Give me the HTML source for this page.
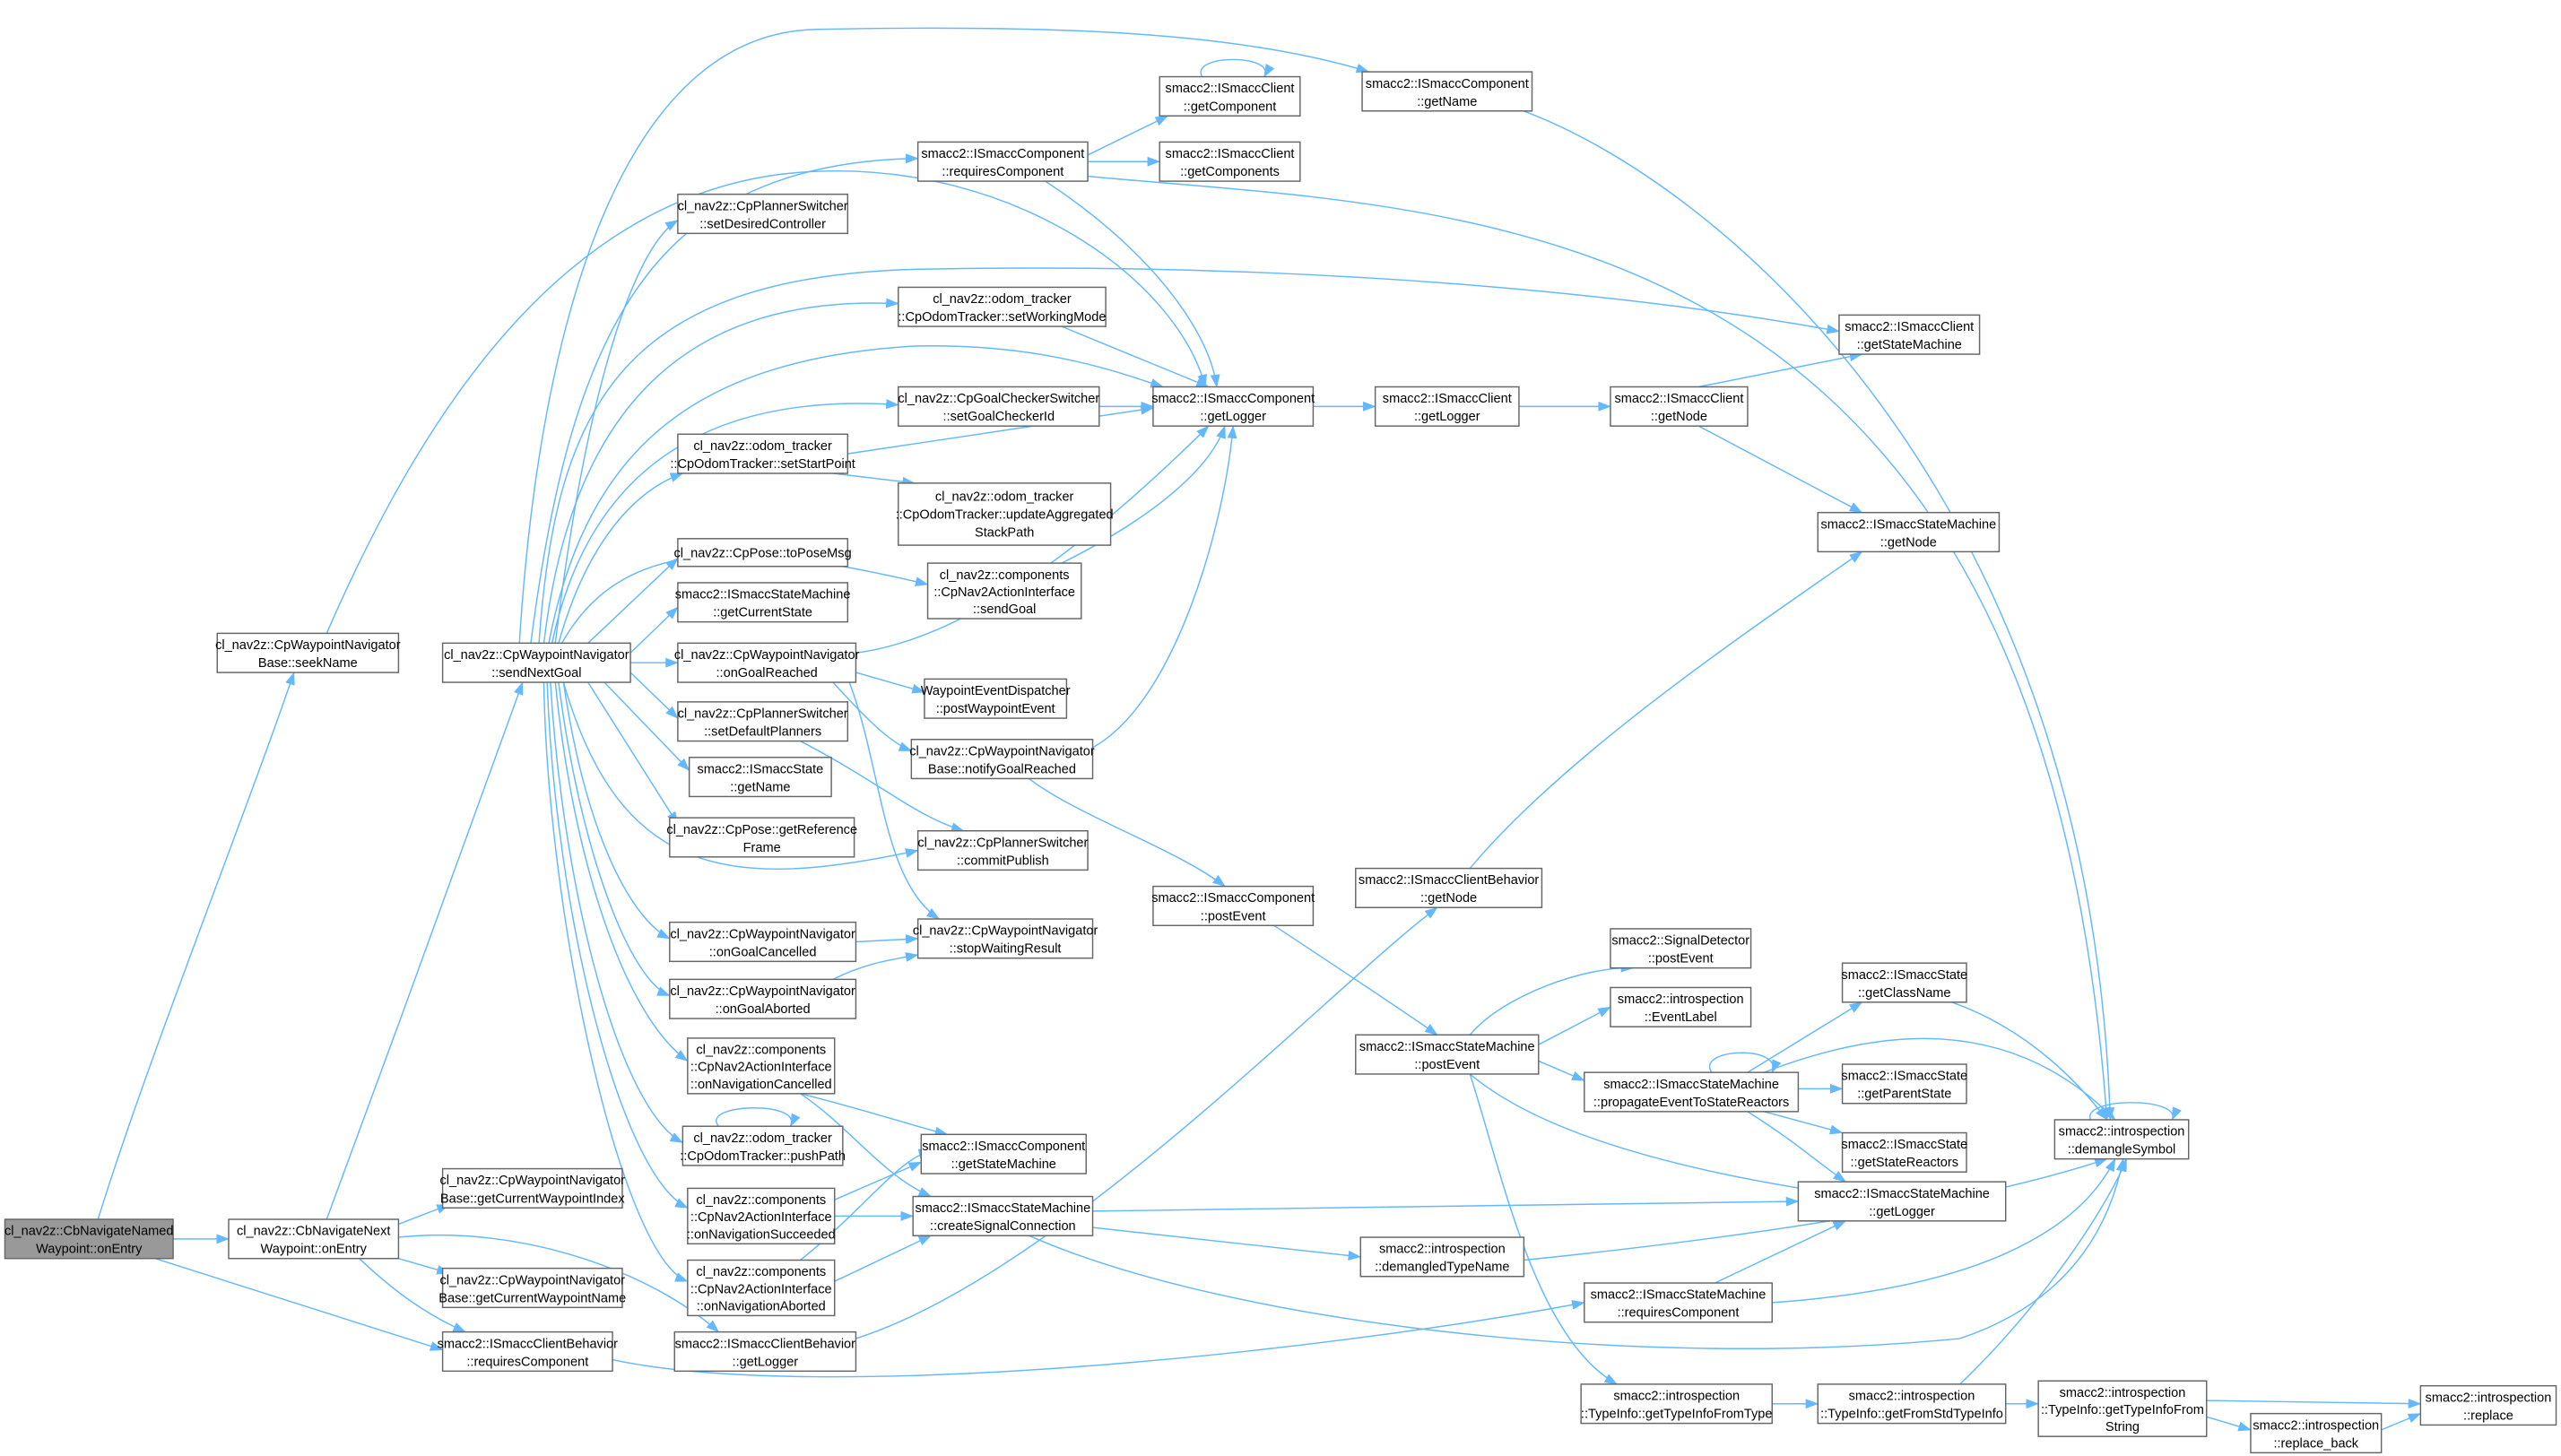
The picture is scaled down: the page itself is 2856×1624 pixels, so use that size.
<!DOCTYPE html>
<html><head><meta charset="utf-8"><style>
html,body{margin:0;padding:0;background:#fff;}
svg{display:block;}
text{font-family:"Liberation Sans",Arial,sans-serif;font-size:8px;fill:#000;text-anchor:middle;}
.b{fill:#fff;stroke:#666;stroke-width:0.8;}
.e{fill:none;stroke:#63b8ff;stroke-width:0.8;marker-end:url(#ar);}
</style></head><body>
<svg width="2856" height="1624" viewBox="0 0 1568 892" preserveAspectRatio="none" xmlns="http://www.w3.org/2000/svg">
<defs><marker id="ar" markerWidth="8" markerHeight="6" refX="7.5" refY="3" orient="auto" markerUnits="userSpaceOnUse"><path d="M0,0 L8,3 L0,6 z" fill="#63b8ff"/></marker></defs>
<rect width="1568" height="892" fill="#fff"/>
<g>
<path class="e" d="M60,747 C90,650 150,500 180,412"/>
<path class="e" d="M106,759 L140,759"/>
<path class="e" d="M95,771 L271,827"/>
<path class="e" d="M200,747 C240,640 290,500 320,418"/>
<path class="e" d="M244,750 L275,738"/>
<path class="e" d="M244,771 L275,780"/>
<path class="e" d="M220,771 C240,790 260,805 285,816"/>
<path class="e" d="M244,758 C320,750 400,780 440,816"/>
<path class="e" d="M200,388 C260,250 350,110 500,105 C620,100 720,170 738,237"/>
<path class="e" d="M340,394 C360,230 390,150 415,135"/>
<path class="e" d="M318,394 C330,200 380,20 500,18 C650,15 760,20 838,44"/>
<path class="e" d="M325,394 C350,200 400,100 562,97"/>
<path class="e" d="M330,394 C340,250 380,170 560,165 C800,160 1000,180 1126,203"/>
<path class="e" d="M333,394 C350,250 420,180 550,186"/>
<path class="e" d="M336,394 C360,270 430,220 560,212 C640,210 690,230 712,237"/>
<path class="e" d="M338,394 C360,290 430,240 550,248"/>
<path class="e" d="M342,394 C360,330 390,300 418,290"/>
<path class="e" d="M344,394 C380,330 450,330 568,358"/>
<path class="e" d="M360,394 L415,342"/>
<path class="e" d="M386,400 L415,372"/>
<path class="e" d="M386,406 L415,406"/>
<path class="e" d="M386,412 L415,440"/>
<path class="e" d="M370,418 L422,472"/>
<path class="e" d="M360,418 L415,505"/>
<path class="e" d="M345,418 C380,540 450,545 562,521"/>
<path class="e" d="M345,418 C360,520 390,565 410,575"/>
<path class="e" d="M342,418 C355,520 385,600 410,610"/>
<path class="e" d="M340,418 C350,520 380,620 421,650"/>
<path class="e" d="M337,418 C345,550 380,680 418,700"/>
<path class="e" d="M335,418 C340,560 380,720 421,740"/>
<path class="e" d="M333,418 C335,560 380,770 421,785"/>
<path class="e" d="M524,400 C600,390 680,320 740,261"/>
<path class="e" d="M524,412 L566,424"/>
<path class="e" d="M510,418 C530,440 545,455 558,460"/>
<path class="e" d="M520,418 C540,470 540,540 575,563"/>
<path class="e" d="M490,454 C540,480 560,500 590,509"/>
<path class="e" d="M519,278 L706,250"/>
<path class="e" d="M510,290 L560,296"/>
<path class="e" d="M650,200 L740,237"/>
<path class="e" d="M673,249 L706,249"/>
<path class="e" d="M650,345 C700,320 740,290 750,261"/>
<path class="e" d="M669,458 C720,430 750,320 755,261"/>
<path class="e" d="M630,477 C660,500 720,520 750,543"/>
<path class="e" d="M524,577 L562,575"/>
<path class="e" d="M510,600 C530,590 545,588 562,585"/>
<path class="e" d="M490,670 C530,680 560,690 580,695"/>
<path class="e" d="M490,670 C520,690 540,720 570,733"/>
<path class="e" d="M440,690 C428,676 492,674 484,690"/>
<path class="e" d="M511,735 L564,712"/>
<path class="e" d="M511,745 L559,745"/>
<path class="e" d="M490,772 C530,740 550,710 570,705"/>
<path class="e" d="M511,785 L570,757"/>
<path class="e" d="M524,820 C650,780 820,600 880,556"/>
<path class="e" d="M375,833 C500,860 800,830 970,798"/>
<path class="e" d="M666,95 L715,71"/>
<path class="e" d="M666,99 L710,99"/>
<path class="e" d="M640,111 C700,150 740,200 745,237"/>
<path class="e" d="M666,108 C900,130 1250,120 1290,686"/>
<path class="e" d="M736,47 C728,33 782,33 774,47"/>
<path class="e" d="M930,67 C1050,110 1280,300 1292,686"/>
<path class="e" d="M804,249 L842,249"/>
<path class="e" d="M930,249 L986,249"/>
<path class="e" d="M1040,237 L1140,217"/>
<path class="e" d="M1040,261 L1140,314"/>
<path class="e" d="M900,532 C960,460 1080,380 1140,338"/>
<path class="e" d="M780,567 C830,600 860,620 880,634"/>
<path class="e" d="M900,634 C920,610 970,592 1000,593"/>
<path class="e" d="M942,640 L986,617"/>
<path class="e" d="M942,650 L970,662"/>
<path class="e" d="M900,658 C950,700 1050,720 1115,730"/>
<path class="e" d="M900,658 C920,720 940,820 990,848"/>
<path class="e" d="M1048,657 C1038,642 1092,640 1085,657"/>
<path class="e" d="M1070,657 L1140,614"/>
<path class="e" d="M1101,667 L1128,667"/>
<path class="e" d="M1080,681 L1128,694"/>
<path class="e" d="M1070,681 C1100,700 1110,710 1130,724"/>
<path class="e" d="M1080,657 C1150,630 1230,620 1295,686"/>
<path class="e" d="M1195,614 C1240,630 1270,660 1290,686"/>
<path class="e" d="M669,742 L1101,736"/>
<path class="e" d="M669,752 L833,770"/>
<path class="e" d="M630,757 C750,810 1000,840 1200,820 C1260,800 1290,760 1300,710"/>
<path class="e" d="M933,772 C1050,760 1200,740 1290,710"/>
<path class="e" d="M1050,786 L1130,748"/>
<path class="e" d="M1085,798 C1200,790 1270,760 1295,710"/>
<path class="e" d="M1085,860 L1113,860"/>
<path class="e" d="M1228,860 L1248,860"/>
<path class="e" d="M1200,848 C1250,800 1290,740 1302,710"/>
<path class="e" d="M1351,858 L1482,860"/>
<path class="e" d="M1351,868 L1378,876"/>
<path class="e" d="M1458,876 L1482,866"/>
<path class="e" d="M1280,686 C1274,672 1336,672 1330,686"/>
</g>
<g>
<rect x="3" y="747" width="103" height="24" fill="#999" stroke="#666" stroke-width="0.8"/><text x="54.5" y="756.7">cl_nav2z::CbNavigateNamed</text><text x="54.5" y="767.7">Waypoint::onEntry</text>
<rect class="b" x="133" y="388" width="111" height="24"/><text x="188.5" y="397.7">cl_nav2z::CpWaypointNavigator</text><text x="188.5" y="408.7">Base::seekName</text>
<rect class="b" x="140" y="747" width="104" height="24"/><text x="192" y="756.7">cl_nav2z::CbNavigateNext</text><text x="192" y="767.7">Waypoint::onEntry</text>
<rect class="b" x="271" y="394" width="115" height="24"/><text x="328.5" y="403.7">cl_nav2z::CpWaypointNavigator</text><text x="328.5" y="414.7">::sendNextGoal</text>
<rect class="b" x="271" y="716" width="110" height="24"/><text x="326" y="725.7">cl_nav2z::CpWaypointNavigator</text><text x="326" y="736.7">Base::getCurrentWaypointIndex</text>
<rect class="b" x="271" y="777" width="110" height="24"/><text x="326" y="786.7">cl_nav2z::CpWaypointNavigator</text><text x="326" y="797.7">Base::getCurrentWaypointName</text>
<rect class="b" x="271" y="816" width="104" height="24"/><text x="323" y="825.7">smacc2::ISmaccClientBehavior</text><text x="323" y="836.7">::requiresComponent</text>
<rect class="b" x="415" y="119" width="104" height="24"/><text x="467" y="128.7">cl_nav2z::CpPlannerSwitcher</text><text x="467" y="139.7">::setDesiredController</text>
<rect class="b" x="415" y="266" width="104" height="24"/><text x="467" y="275.7">cl_nav2z::odom_tracker</text><text x="467" y="286.7">::CpOdomTracker::setStartPoint</text>
<rect class="b" x="415" y="330" width="104" height="17"/><text x="467" y="341.5">cl_nav2z::CpPose::toPoseMsg</text>
<rect class="b" x="415" y="357" width="104" height="24"/><text x="467" y="366.7">smacc2::ISmaccStateMachine</text><text x="467" y="377.7">::getCurrentState</text>
<rect class="b" x="415" y="394" width="109" height="24"/><text x="469.5" y="403.7">cl_nav2z::CpWaypointNavigator</text><text x="469.5" y="414.7">::onGoalReached</text>
<rect class="b" x="415" y="430" width="104" height="24"/><text x="467" y="439.7">cl_nav2z::CpPlannerSwitcher</text><text x="467" y="450.7">::setDefaultPlanners</text>
<rect class="b" x="422" y="464" width="87" height="24"/><text x="465.5" y="473.7">smacc2::ISmaccState</text><text x="465.5" y="484.7">::getName</text>
<rect class="b" x="410" y="501" width="113" height="24"/><text x="466.5" y="510.7">cl_nav2z::CpPose::getReference</text><text x="466.5" y="521.7">Frame</text>
<rect class="b" x="410" y="565" width="114" height="24"/><text x="467" y="574.7">cl_nav2z::CpWaypointNavigator</text><text x="467" y="585.7">::onGoalCancelled</text>
<rect class="b" x="410" y="600" width="114" height="24"/><text x="467" y="609.7">cl_nav2z::CpWaypointNavigator</text><text x="467" y="620.7">::onGoalAborted</text>
<rect class="b" x="421" y="636" width="90" height="34"/><text x="466" y="645.7">cl_nav2z::components</text><text x="466" y="656.2">::CpNav2ActionInterface</text><text x="466" y="666.7">::onNavigationCancelled</text>
<rect class="b" x="418" y="690" width="98" height="24"/><text x="467" y="699.7">cl_nav2z::odom_tracker</text><text x="467" y="710.7">::CpOdomTracker::pushPath</text>
<rect class="b" x="421" y="728" width="90" height="34"/><text x="466" y="737.7">cl_nav2z::components</text><text x="466" y="748.2">::CpNav2ActionInterface</text><text x="466" y="758.7">::onNavigationSucceeded</text>
<rect class="b" x="421" y="772" width="90" height="34"/><text x="466" y="781.7">cl_nav2z::components</text><text x="466" y="792.2">::CpNav2ActionInterface</text><text x="466" y="802.7">::onNavigationAborted</text>
<rect class="b" x="413" y="816" width="111" height="24"/><text x="468.5" y="825.7">smacc2::ISmaccClientBehavior</text><text x="468.5" y="836.7">::getLogger</text>
<rect class="b" x="562" y="87" width="104" height="24"/><text x="614" y="96.7">smacc2::ISmaccComponent</text><text x="614" y="107.7">::requiresComponent</text>
<rect class="b" x="550" y="176" width="127" height="24"/><text x="613.5" y="185.7">cl_nav2z::odom_tracker</text><text x="613.5" y="196.7">::CpOdomTracker::setWorkingMode</text>
<rect class="b" x="550" y="237" width="123" height="24"/><text x="611.5" y="246.7">cl_nav2z::CpGoalCheckerSwitcher</text><text x="611.5" y="257.7">::setGoalCheckerId</text>
<rect class="b" x="550" y="296" width="130" height="38"/><text x="615" y="306.7">cl_nav2z::odom_tracker</text><text x="615" y="317.7">::CpOdomTracker::updateAggregated</text><text x="615" y="328.7">StackPath</text>
<rect class="b" x="568" y="345" width="94" height="34"/><text x="615" y="354.7">cl_nav2z::components</text><text x="615" y="365.2">::CpNav2ActionInterface</text><text x="615" y="375.7">::sendGoal</text>
<rect class="b" x="566" y="416" width="87" height="24"/><text x="609.5" y="425.7">WaypointEventDispatcher</text><text x="609.5" y="436.7">::postWaypointEvent</text>
<rect class="b" x="558" y="453" width="111" height="24"/><text x="613.5" y="462.7">cl_nav2z::CpWaypointNavigator</text><text x="613.5" y="473.7">Base::notifyGoalReached</text>
<rect class="b" x="562" y="509" width="104" height="24"/><text x="614" y="518.7">cl_nav2z::CpPlannerSwitcher</text><text x="614" y="529.7">::commitPublish</text>
<rect class="b" x="562" y="563" width="107" height="24"/><text x="615.5" y="572.7">cl_nav2z::CpWaypointNavigator</text><text x="615.5" y="583.7">::stopWaitingResult</text>
<rect class="b" x="564" y="695" width="101" height="24"/><text x="614.5" y="704.7">smacc2::ISmaccComponent</text><text x="614.5" y="715.7">::getStateMachine</text>
<rect class="b" x="559" y="733" width="110" height="24"/><text x="614" y="742.7">smacc2::ISmaccStateMachine</text><text x="614" y="753.7">::createSignalConnection</text>
<rect class="b" x="706" y="237" width="98" height="24"/><text x="755" y="246.7">smacc2::ISmaccComponent</text><text x="755" y="257.7">::getLogger</text>
<rect class="b" x="706" y="543" width="98" height="24"/><text x="755" y="552.7">smacc2::ISmaccComponent</text><text x="755" y="563.7">::postEvent</text>
<rect class="b" x="710" y="47" width="86" height="24"/><text x="753" y="56.7">smacc2::ISmaccClient</text><text x="753" y="67.7">::getComponent</text>
<rect class="b" x="710" y="87" width="86" height="24"/><text x="753" y="96.7">smacc2::ISmaccClient</text><text x="753" y="107.7">::getComponents</text>
<rect class="b" x="834" y="44" width="104" height="24"/><text x="886" y="53.7">smacc2::ISmaccComponent</text><text x="886" y="64.7">::getName</text>
<rect class="b" x="842" y="237" width="88" height="24"/><text x="886" y="246.7">smacc2::ISmaccClient</text><text x="886" y="257.7">::getLogger</text>
<rect class="b" x="830" y="532" width="114" height="24"/><text x="887" y="541.7">smacc2::ISmaccClientBehavior</text><text x="887" y="552.7">::getNode</text>
<rect class="b" x="830" y="634" width="112" height="24"/><text x="886" y="643.7">smacc2::ISmaccStateMachine</text><text x="886" y="654.7">::postEvent</text>
<rect class="b" x="833" y="758" width="100" height="24"/><text x="883" y="767.7">smacc2::introspection</text><text x="883" y="778.7">::demangledTypeName</text>
<rect class="b" x="968" y="848" width="117" height="24"/><text x="1026.5" y="857.7">smacc2::introspection</text><text x="1026.5" y="868.7">::TypeInfo::getTypeInfoFromType</text>
<rect class="b" x="986" y="237" width="84" height="24"/><text x="1028" y="246.7">smacc2::ISmaccClient</text><text x="1028" y="257.7">::getNode</text>
<rect class="b" x="986" y="569" width="86" height="24"/><text x="1029" y="578.7">smacc2::SignalDetector</text><text x="1029" y="589.7">::postEvent</text>
<rect class="b" x="986" y="605" width="86" height="24"/><text x="1029" y="614.7">smacc2::introspection</text><text x="1029" y="625.7">::EventLabel</text>
<rect class="b" x="970" y="657" width="131" height="24"/><text x="1035.5" y="666.7">smacc2::ISmaccStateMachine</text><text x="1035.5" y="677.7">::propagateEventToStateReactors</text>
<rect class="b" x="970" y="786" width="115" height="24"/><text x="1027.5" y="795.7">smacc2::ISmaccStateMachine</text><text x="1027.5" y="806.7">::requiresComponent</text>
<rect class="b" x="1113" y="848" width="115" height="24"/><text x="1170.5" y="857.7">smacc2::introspection</text><text x="1170.5" y="868.7">::TypeInfo::getFromStdTypeInfo</text>
<rect class="b" x="1126" y="193" width="86" height="24"/><text x="1169" y="202.7">smacc2::ISmaccClient</text><text x="1169" y="213.7">::getStateMachine</text>
<rect class="b" x="1113" y="314" width="111" height="24"/><text x="1168.5" y="323.7">smacc2::ISmaccStateMachine</text><text x="1168.5" y="334.7">::getNode</text>
<rect class="b" x="1128" y="590" width="76" height="24"/><text x="1166" y="599.7">smacc2::ISmaccState</text><text x="1166" y="610.7">::getClassName</text>
<rect class="b" x="1128" y="652" width="76" height="24"/><text x="1166" y="661.7">smacc2::ISmaccState</text><text x="1166" y="672.7">::getParentState</text>
<rect class="b" x="1128" y="694" width="76" height="24"/><text x="1166" y="703.7">smacc2::ISmaccState</text><text x="1166" y="714.7">::getStateReactors</text>
<rect class="b" x="1101" y="724" width="127" height="24"/><text x="1164.5" y="733.7">smacc2::ISmaccStateMachine</text><text x="1164.5" y="744.7">::getLogger</text>
<rect class="b" x="1248" y="846" width="103" height="34"/><text x="1299.5" y="855.7">smacc2::introspection</text><text x="1299.5" y="866.2">::TypeInfo::getTypeInfoFrom</text><text x="1299.5" y="876.7">String</text>
<rect class="b" x="1378" y="866" width="80" height="24"/><text x="1418" y="875.7">smacc2::introspection</text><text x="1418" y="886.7">::replace_back</text>
<rect class="b" x="1258" y="686" width="82" height="24"/><text x="1299" y="695.7">smacc2::introspection</text><text x="1299" y="706.7">::demangleSymbol</text>
<rect class="b" x="1482" y="849" width="83" height="24"/><text x="1523.5" y="858.7">smacc2::introspection</text><text x="1523.5" y="869.7">::replace</text>
</g>
</svg>
</body></html>
